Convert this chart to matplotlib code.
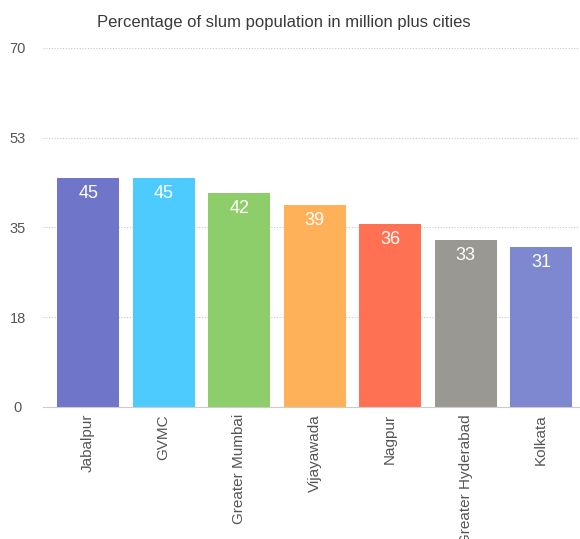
import matplotlib.pyplot as plt
import numpy as np

cities = ["Jabalpur", "GVMC", "Greater Mumbai", "Vijayawada", "Nagpur",
          "Greater Hyderabad", "Kolkata"]
slum_pct = [44.6, 44.6, 41.7, 39.4, 35.7, 32.6, 31.2]
colors = ["#6F75C9", "#4DCBFF", "#8DCD6A", "#FFB15A", "#FF7152",
          "#9A9892", "#7E88D0"]
yticks = [0, 17.5, 35, 52.5, 70]
ytick_labels = ["0", "18", "35", "53", "70"]

plt.rcParams['font.family'] = ['Liberation Sans', 'DejaVu Sans']

fig = plt.figure(figsize=(5.8, 5.39), dpi=100)
ax = fig.add_axes([0.074, 0.245, 0.924, 0.666])

x = np.arange(len(cities))
bars = ax.bar(x, slum_pct, width=0.82, color=colors, zorder=2)

for b, v in zip(bars, slum_pct):
    ax.annotate(f"{round(v)}", (b.get_x() + b.get_width() / 2, v),
                xytext=(0, -11), textcoords="offset points",
                ha="center", va="center", color="white", fontsize=13, zorder=3)

ax.set_xlim(-0.6, 6.5)
ax.set_ylim(0, 70)
ax.set_yticks(yticks)
ax.set_yticklabels(ytick_labels, ha="center")
ax.set_xticks(x)
ax.set_xticklabels(cities, rotation=90, va="top", ha="center")
ax.tick_params(axis="both", length=0, labelcolor="#555555")
ax.tick_params(axis="y", pad=18, labelsize=10.5)
ax.tick_params(axis="x", pad=5, labelsize=11)

ax.grid(axis="y", linestyle=(0, (1, 1.5)), color="#c8c8c8", linewidth=0.8, zorder=0)
ax.set_axisbelow(True)
for s in ["top", "right", "left"]:
    ax.spines[s].set_visible(False)
ax.spines["bottom"].set_color("#cccccc")
ax.spines["bottom"].set_zorder(4)

fig.text(0.49, 0.959, "Percentage of slum population in million plus cities",
         ha="center", va="center", fontsize=12, color="#3a3a3a")

fig.savefig("out.png", dpi=100)
